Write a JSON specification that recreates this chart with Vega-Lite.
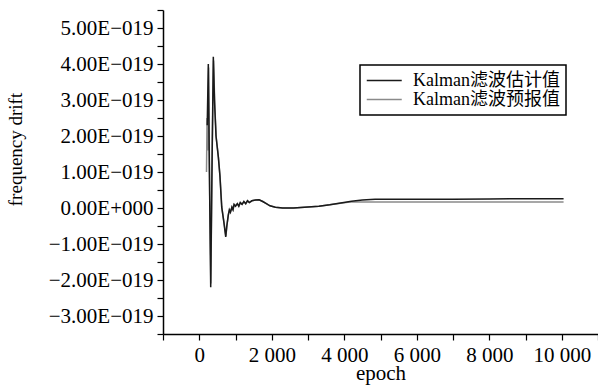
{
  "$schema": "https://vega.github.io/schema/vega-lite/v6.json",
  "width": 435,
  "height": 324,
  "autosize": {"type": "none"},
  "padding": {"left": 163, "top": 10, "right": 0, "bottom": 55},
  "background": "white",
  "config": {
    "view": {"stroke": null},
    "font": "Liberation Serif",
    "legend": {"strokeWidth": 1.5}
  },
  "datasets": {
    "est": [
      {"epoch": 220, "v": 2.3e-19}, {"epoch": 250, "v": 4.0e-19}, {"epoch": 280, "v": 1.0e-19},
      {"epoch": 316, "v": -2.2e-19}, {"epoch": 350, "v": 1.0e-19}, {"epoch": 388, "v": 4.2e-19},
      {"epoch": 420, "v": 3.0e-19}, {"epoch": 462, "v": 2.0e-19}, {"epoch": 526, "v": 1.42e-19},
      {"epoch": 570, "v": 0.9e-19}, {"epoch": 619, "v": 0.03e-19}, {"epoch": 680, "v": -0.4e-19},
      {"epoch": 730, "v": -0.8e-19}, {"epoch": 760, "v": -0.5e-19}, {"epoch": 801, "v": -0.2e-19},
      {"epoch": 830, "v": -0.05e-19}, {"epoch": 860, "v": -0.12e-19}, {"epoch": 900, "v": 0.02e-19},
      {"epoch": 930, "v": -0.05e-19}, {"epoch": 960, "v": 0.1e-19}, {"epoch": 1000, "v": 0.05e-19},
      {"epoch": 1050, "v": 0.12e-19}, {"epoch": 1090, "v": 0.05e-19}, {"epoch": 1130, "v": 0.15e-19},
      {"epoch": 1180, "v": 0.1e-19}, {"epoch": 1230, "v": 0.18e-19}, {"epoch": 1280, "v": 0.12e-19},
      {"epoch": 1330, "v": 0.2e-19}, {"epoch": 1380, "v": 0.15e-19}, {"epoch": 1450, "v": 0.2e-19},
      {"epoch": 1550, "v": 0.22e-19}, {"epoch": 1650, "v": 0.23e-19}, {"epoch": 1750, "v": 0.18e-19},
      {"epoch": 1850, "v": 0.12e-19}, {"epoch": 1950, "v": 0.06e-19}, {"epoch": 2100, "v": 0.02e-19},
      {"epoch": 2300, "v": 0.0}, {"epoch": 2600, "v": 0.0}, {"epoch": 3000, "v": 0.03e-19},
      {"epoch": 3300, "v": 0.05e-19}, {"epoch": 3600, "v": 0.09e-19}, {"epoch": 3900, "v": 0.14e-19},
      {"epoch": 4200, "v": 0.19e-19}, {"epoch": 4500, "v": 0.22e-19}, {"epoch": 4850, "v": 0.24e-19},
      {"epoch": 6000, "v": 0.24e-19}, {"epoch": 7000, "v": 0.24e-19}, {"epoch": 8000, "v": 0.25e-19},
      {"epoch": 9000, "v": 0.26e-19}, {"epoch": 10050, "v": 0.26e-19}
    ],
    "pred": [
      {"epoch": 200, "v": 1.0e-19}, {"epoch": 215, "v": 2.5e-19}, {"epoch": 235, "v": 1.6e-19},
      {"epoch": 258, "v": 3.9e-19}, {"epoch": 290, "v": 0.2e-19}, {"epoch": 320, "v": -2.1e-19},
      {"epoch": 360, "v": 1.8e-19}, {"epoch": 395, "v": 4.1e-19}, {"epoch": 430, "v": 2.8e-19},
      {"epoch": 470, "v": 1.95e-19}, {"epoch": 530, "v": 1.4e-19}, {"epoch": 575, "v": 0.85e-19},
      {"epoch": 625, "v": 0.0}, {"epoch": 685, "v": -0.42e-19}, {"epoch": 735, "v": -0.78e-19},
      {"epoch": 765, "v": -0.48e-19}, {"epoch": 805, "v": -0.18e-19}, {"epoch": 835, "v": -0.06e-19},
      {"epoch": 865, "v": -0.1e-19}, {"epoch": 905, "v": 0.03e-19}, {"epoch": 935, "v": -0.04e-19},
      {"epoch": 965, "v": 0.1e-19}, {"epoch": 1005, "v": 0.06e-19}, {"epoch": 1055, "v": 0.12e-19},
      {"epoch": 1095, "v": 0.06e-19}, {"epoch": 1135, "v": 0.15e-19}, {"epoch": 1185, "v": 0.1e-19},
      {"epoch": 1235, "v": 0.18e-19}, {"epoch": 1285, "v": 0.12e-19}, {"epoch": 1335, "v": 0.2e-19},
      {"epoch": 1385, "v": 0.15e-19}, {"epoch": 1455, "v": 0.2e-19}, {"epoch": 1555, "v": 0.22e-19},
      {"epoch": 1655, "v": 0.23e-19}, {"epoch": 1755, "v": 0.18e-19}, {"epoch": 1855, "v": 0.12e-19},
      {"epoch": 1955, "v": 0.06e-19}, {"epoch": 2100, "v": 0.02e-19}, {"epoch": 2300, "v": 0.0},
      {"epoch": 2600, "v": 0.0}, {"epoch": 3000, "v": 0.03e-19}, {"epoch": 3300, "v": 0.05e-19},
      {"epoch": 3600, "v": 0.09e-19}, {"epoch": 3900, "v": 0.13e-19}, {"epoch": 4200, "v": 0.17e-19},
      {"epoch": 4500, "v": 0.17e-19}, {"epoch": 4850, "v": 0.17e-19}, {"epoch": 7000, "v": 0.17e-19},
      {"epoch": 10050, "v": 0.17e-19}
    ]
  },
  "encoding": {
    "x": {
      "field": "epoch", "type": "quantitative",
      "scale": {"domain": [-1000, 11000], "nice": false, "zero": false},
      "axis": {
        "title": "epoch",
        "values": [-1000, 0, 1000, 2000, 3000, 4000, 5000, 6000, 7000, 8000, 9000, 10000, 11000],
        "labelExpr": "(datum.value < 0 || datum.value > 10000 || datum.value % 2000 != 0) ? '' : replace(format(datum.value, ','), ',', ' ')",
        "grid": false,
        "domainColor": "black", "domainWidth": 1.5,
        "tickColor": "black", "tickWidth": 1.2, "tickSize": 6,
        "labelColor": "black", "labelFontSize": 21, "labelPadding": 4,
        "labelFlush": false, "labelOverlap": false,
        "titleColor": "black", "titleFontSize": 21, "titleFontWeight": "normal",
        "titleY": 45, "titleBaseline": "alphabetic"
      }
    },
    "y": {
      "field": "v", "type": "quantitative",
      "scale": {"domain": [-3.5e-19, 5.5e-19], "nice": false, "zero": false},
      "axis": {
        "title": "frequency drift",
        "values": [-3.5e-19, -3e-19, -2.5e-19, -2e-19, -1.5e-19, -1e-19, -0.5e-19, 0, 0.5e-19, 1e-19, 1.5e-19, 2e-19, 2.5e-19, 3e-19, 3.5e-19, 4e-19, 4.5e-19, 5e-19, 5.5e-19],
        "labelExpr": "(abs(datum.value*1e19 - round(datum.value*1e19)) < 0.01 && datum.value*1e19 < 5.2 && datum.value*1e19 > -3.2) ? (format(datum.value*1e19, '.2f') + (abs(datum.value*1e19) < 0.01 ? 'E+000' : 'E−019')) : ''",
        "grid": false,
        "domainColor": "black", "domainWidth": 1.5,
        "tickColor": "black", "tickWidth": 1.2, "tickSize": 6,
        "labelColor": "black", "labelFontSize": 21, "labelPadding": 4,
        "labelFlush": false, "labelOverlap": false,
        "titleColor": "black", "titleFontSize": 19, "titleFontWeight": "normal",
        "titleX": -142, "titleY": 139,
        "titleAngle": -90, "titleBaseline": "alphabetic", "titleAlign": "center"
      }
    },
    "color": {
      "field": "series", "type": "nominal",
      "scale": {"domain": ["Kalman滤波估计值", "Kalman滤波预报值"], "range": ["#1a1a1a", "#8a8a8a"]},
      "legend": {
        "title": null, "orient": "none", "legendX": 197, "legendY": 55,
        "symbolType": "M-1,0H3", "symbolSize": 306, "symbolStrokeWidth": 1.5,
        "labelFont": "Liberation Serif, Noto Sans CJK SC", "labelFontSize": 18, "labelColor": "black",
        "labelOffset": 28, "labelLimit": 300,
        "strokeColor": "black", "padding": 6, "rowPadding": 0,
        "fillColor": "white"
      }
    }
  },
  "layer": [
    {
      "data": {"name": "pred"},
      "transform": [{"calculate": "'Kalman滤波预报值'", "as": "series"}],
      "mark": {"type": "line", "strokeWidth": 1.5}
    },
    {
      "data": {"name": "est"},
      "transform": [{"calculate": "'Kalman滤波估计值'", "as": "series"}],
      "mark": {"type": "line", "strokeWidth": 1.5}
    }
  ]
}
